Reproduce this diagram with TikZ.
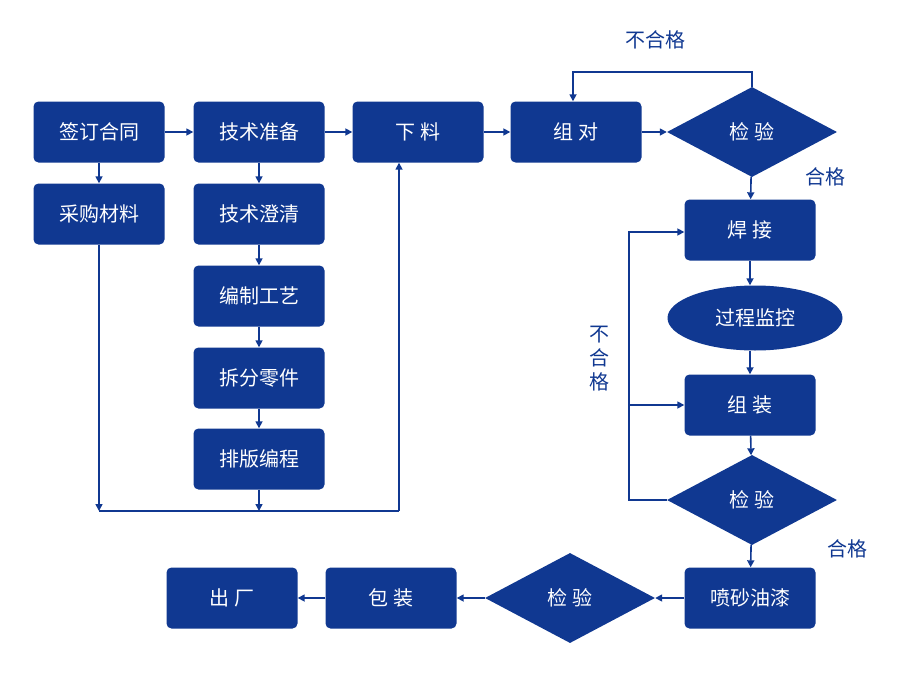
\documentclass[tikz,border=0pt]{standalone}
\usepackage{fontspec}
\setmainfont{Noto Sans CJK SC}
\usetikzlibrary{shapes.geometric,arrows.meta}
\definecolor{flowblue}{RGB}{16,56,145}
\tikzset{
  task/.style={draw=none,fill=flowblue,text=white,rounded corners=5pt,minimum width=131pt,minimum height=61pt,font=\fontsize{20}{24}\selectfont},
  check/.style={diamond,aspect=1.9,fill=flowblue,text=white,minimum width=170pt,minimum height=90pt,inner sep=0pt,font=\fontsize{20}{24}\selectfont},
  watch/.style={ellipse,fill=flowblue,text=white,minimum width=175pt,minimum height=65pt,inner sep=0pt,font=\fontsize{20}{24}\selectfont},
  flow/.style={draw=flowblue,line width=1.6pt,-{Triangle[length=7pt,width=7pt]}},
  link/.style={draw=flowblue,line width=1.6pt},
  note/.style={text=flowblue,font=\fontsize{20}{24}\selectfont}
}
\begin{document}
\begin{tikzpicture}[x=1pt,y=-1pt]
\useasboundingbox (0,0) rectangle (900,680);
% top row
\node[task] (sign) at (99,132) {签订合同};
\node[task] (prep) at (259,132) {技术准备};
\node[task] (cut) at (418,132) {下\ 料};
\node[task] (pair) at (576,132) {组\ 对};
\node[check] (chkA) at (752,132) {检\ 验};
% left columns
\node[task] (buy) at (99,214) {采购材料};
\node[task] (clar) at (259,214) {技术澄清};
\node[task] (proc) at (259,296) {编制工艺};
\node[task] (part) at (259,378) {拆分零件};
\node[task] (nest) at (259,459) {排版编程};
% right column
\node[task] (weld) at (750,230) {焊\ 接};
\node[watch] (mon) at (755,318) {过程监控};
\node[task] (asm) at (750,405) {组\ 装};
\node[check] (chkB) at (752,500) {检\ 验};
\node[task] (paint) at (750,598) {喷砂油漆};
% bottom row
\node[check] (chkC) at (570,598) {检\ 验};
\node[task] (pack) at (391,598) {包\ 装};
\node[task] (ship) at (232,598) {出\ 厂};
% labels
\node[note] (failA) at (655,40) {不合格};
\node[note] (passA) at (825,177) {合格};
\node[note] (passB) at (847,549) {合格};
\node[note,align=center,text width=22pt] (failB) at (599,359) {不\\合\\格};
% helper points
\coordinate (jA) at (99,511);
\coordinate (jB) at (259,511);
\coordinate (jC) at (399,511);
\coordinate (loopL) at (629,500);
% connectors
\draw[flow] (sign) -- (prep);
\draw[flow] (prep) -- (cut);
\draw[flow] (cut) -- (pair);
\draw[flow] (pair) -- (chkA);
\draw[flow] (sign) -- (buy);
\draw[flow] (prep) -- (clar);
\draw[flow] (clar) -- (proc);
\draw[flow] (proc) -- (part);
\draw[flow] (part) -- (nest);
\draw[flow] (buy) -- (jA);
\draw[flow] (nest) -- (jB);
\draw[link] (jA) -- (jC);
\draw[flow] (jC) -- (jC |- cut.south);
\draw[flow] (chkA.north) -- ++(0,-15) -| ([xshift=-3pt]pair.north);
\draw[flow] (chkA) -- (weld);
\draw[flow] (weld) -- (weld |- mon.north);
\draw[flow] (weld |- mon.south) -- (asm);
\draw[flow] (asm) -- (chkB);
\draw[flow] (chkB.west) -- (loopL) |- ([yshift=-2pt]weld.west);
\draw[flow] (loopL |- asm) -- (asm.west);
\draw[flow] (chkB) -- (paint);
\draw[flow] (paint) -- (chkC);
\draw[flow] (chkC) -- (pack);
\draw[flow] (pack) -- (ship);
\end{tikzpicture}
\end{document}
